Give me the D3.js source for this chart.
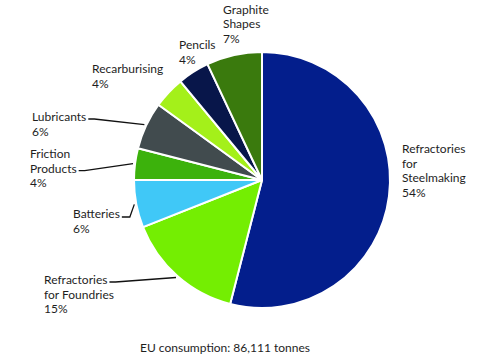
<!DOCTYPE html>
<html>
<head>
<meta charset="utf-8">
<script src="https://cdn.jsdelivr.net/npm/d3@7"></script>
<style>
  html, body { margin: 0; padding: 0; background: #fff; }
  text { font-family: Lato, "Open Sans", sans-serif; font-size: 12px; fill: #1e1e1e; }
</style>
</head>
<body>
<svg id="chart" width="485" height="360"></svg>
<script>
// ---- data ----
const categories = ["Refractories for Steelmaking", "Refractories for Foundries", "Batteries",
  "Friction Products", "Lubricants", "Recarburising", "Pencils", "Graphite Shapes"];
const shares = [54, 15, 6, 4, 6, 4, 4, 7];
const labelLines = [
  ["Refractories", "for", "Steelmaking", "54%"],
  ["Refractories", "for Foundries", "15%"],
  ["Batteries", "6%"],
  ["Friction", "Products", "4%"],
  ["Lubricants", "6%"],
  ["Recarburising", "4%"],
  ["Pencils", "4%"],
  ["Graphite", "Shapes", "7%"]
];
const colors = ["#031e8c", "#74ee02", "#40c8f7", "#3cb20c", "#414b4e", "#a4f01a", "#08164a", "#3a7a0d"];
const caption = "EU consumption: 86,111 tonnes";

// ---- layout (positions only) ----
const cx = 262, cy = 180, R = 128;
const lineH = 14.6;
// x, first baseline, leader: which text line the leader attaches to (-1 = none)
const labelLayout = [
  {x: 402, y: 153, leader: -1},
  {x: 44, y: 284, leader: 0, kind: "slope"},
  {x: 73, y: 218, leader: 0, kind: "hook"},
  {x: 30, y: 158, leader: 1, kind: "slope"},
  {x: 32, y: 121, leader: 0, kind: "slope"},
  {x: 92, y: 73, leader: -1},
  {x: 179, y: 49, leader: -1},
  {x: 223, y: 13.5, leader: -1}
];

const svg = d3.select("#chart");
const g = svg.append("g").attr("transform", `translate(${cx},${cy})`);

const pie = d3.pie().sort(null).value(d => d)(shares);
const arc = d3.arc().innerRadius(0).outerRadius(R);

g.selectAll("path.slice")
  .data(pie)
  .join("path")
  .attr("class", "slice")
  .attr("d", arc)
  .attr("fill", (d, i) => colors[i])
  .attr("stroke", "#fff")
  .attr("stroke-width", 2)
  .attr("stroke-linejoin", "round");

// labels
pie.forEach((d, i) => {
  const L = labelLayout[i];
  const t = svg.append("text").attr("x", L.x).attr("y", L.y);
  labelLines[i].forEach((s, k) => {
    t.append("tspan").attr("x", L.x).attr("y", L.y + k * lineH).text(s);
  });
  if (L.leader >= 0) {
    const tsp = t.selectAll("tspan").nodes()[L.leader];
    const w = tsp.getComputedTextLength();
    const sx = L.x + w + 2;
    const sy = L.y + L.leader * lineH - 2;
    const mid = (d.startAngle + d.endAngle) / 2;
    const ex = cx + Math.sin(mid) * (R + 2);
    const ey = cy - Math.cos(mid) * (R + 2);
    let pts;
    if (L.kind === "hook") {
      pts = [[sx, sy + 1], [sx + 8, sy + 1], [ex, ey]];
    } else {
      pts = [[sx, sy], [sx + 6, sy], [ex, ey]];
    }
    svg.append("path")
      .attr("d", d3.line()(pts))
      .attr("fill", "none")
      .attr("stroke", "#111")
      .attr("stroke-width", 1.3);
  }
});

svg.append("text")
  .attr("x", 225).attr("y", 352)
  .attr("text-anchor", "middle")
  .text(caption);
</script>
</body>
</html>
